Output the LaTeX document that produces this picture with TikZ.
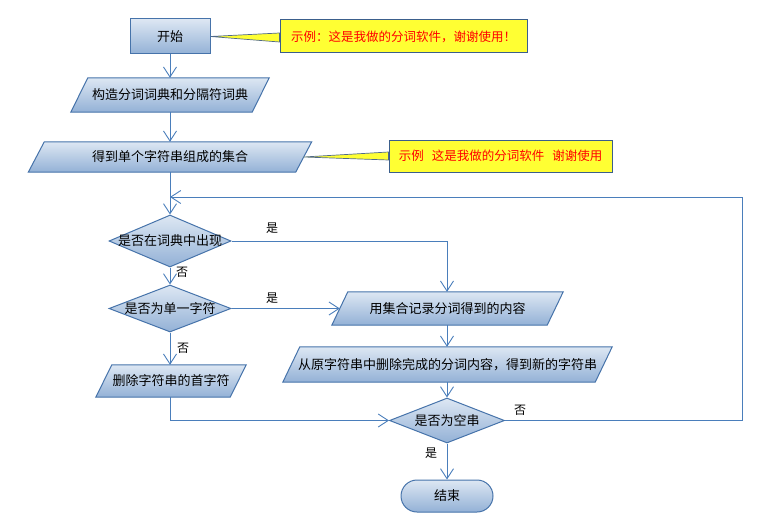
\documentclass[tikz,border=0pt]{standalone}
\usepackage{fontspec}
\setmainfont{Noto Sans CJK SC}
\usetikzlibrary{shapes.geometric,arrows.meta,backgrounds}
\definecolor{lineblue}{HTML}{4A7EBB}
\definecolor{edgeblue}{HTML}{4673AA}
\definecolor{shtop}{HTML}{DDE7F3}
\definecolor{shbot}{HTML}{93B1D6}
\definecolor{calloutfill}{HTML}{FFFF33}
\definecolor{calloutedge}{HTML}{3B5F8C}
\newcommand\parashape[2]{\path[pshape] ([xshift=#2/2]#1.north west) -- ([xshift=#2/2]#1.north east) -- ([xshift=-#2/2]#1.south east) -- ([xshift=-#2/2]#1.south west) -- cycle;}
\begin{document}
\begin{tikzpicture}[x=1pt,y=-1pt,
 box/.style={draw=edgeblue, line width=1pt, top color=shtop, bottom color=shbot, inner sep=0pt},
 pshape/.style={draw=edgeblue, line width=1pt, top color=shtop, bottom color=shbot},
 para/.style={rectangle, inner sep=0pt, txt},
 dec/.style={box, diamond},
 txt/.style={font=\fontsize{13pt}{15pt}\selectfont, text=black},
 flow/.style={draw=lineblue, line width=0.9pt, -{Straight Barb[length=10pt,width=13pt]}},
 yn/.style={font=\fontsize{12pt}{14pt}\selectfont, inner sep=0pt},
 note/.style={draw=calloutedge, line width=1pt, fill=calloutfill, text=red, font=\fontsize{12.5pt}{14pt}\selectfont, inner sep=0pt},
 wedge/.style={fill=calloutfill, draw=calloutedge!70!gray, line width=0.7pt}]
\useasboundingbox (0,0) rectangle (783,516);

\node[box, txt, minimum width=80pt, minimum height=35pt] (start) at (170,36.5) {开始};
\node[para, minimum width=181pt, minimum height=34pt] (p1) at (170,95) {构造分词词典和分隔符词典};
\node[para, minimum width=267pt, minimum height=30pt] (p2) at (170,157) {得到单个字符串组成的集合};
\node[dec, minimum width=122pt, minimum height=52pt, label={[txt]center:是否在词典中出现}] (d1) at (170,241) {};
\node[dec, minimum width=122pt, minimum height=47pt, label={[txt]center:是否为单一字符}] (d2) at (170,308.5) {};
\node[para, minimum width=134pt, minimum height=32pt] (p4) at (171,381) {删除字符串的首字符};
\node[para, minimum width=215pt, minimum height=33pt] (p3) at (447.5,308.5) {用集合记录分词得到的内容};
\node[para, minimum width=312pt, minimum height=35pt] (p5) at (447.5,364.5) {从原字符串中删除完成的分词内容，得到新的字符串};
\node[dec, minimum width=115pt, minimum height=45pt, label={[txt]center:是否为空串}] (d3) at (447,420.5) {};
\node[box, txt, rounded corners=16pt, minimum width=92pt, minimum height=32pt] (end) at (447,496) {结束};

\node[note, minimum width=247pt, minimum height=33pt] (n1) at (403.5,36.5) {示例：这是我做的分词软件，谢谢使用！};
\node[note, minimum width=223pt, minimum height=32pt] (n2) at (500.5,156) {示例\hspace{8pt}这是我做的分词软件\hspace{8pt}谢谢使用};

\begin{scope}[on background layer]
\parashape{p1}{17}
\parashape{p2}{16}
\parashape{p4}{16}
\parashape{p3}{16}
\parashape{p5}{17}
\path[wedge] (start.east) -- ([yshift=3.5pt]n1.west) -- ([yshift=-5.5pt]n1.west) -- cycle;
\path[wedge] (p2.east) -- ([yshift=4pt]n2.west) -- ([yshift=-4pt]n2.west) -- cycle;
\end{scope}

\draw[flow] (start.south) -- (p1.north);
\draw[flow] (p1.south) -- (p2.north);
\draw[flow] (p2.south) -- (d1.north);
\draw[flow] (d1.east) -| (d3.north |- p3.north);
\draw[flow] (d1.south) -- (d2.north);
\draw[flow] (d2.east) -- (p3.west);
\draw[flow] (d2.south) -- (d2.south |- p4.north);
\draw[flow] (d3.north |- p3.south) -- (d3.north |- p5.north);
\draw[flow] (d3.north |- p5.south) -- (d3.north);
\draw[flow] (d2.south |- p4.south) |- (d3.west);
\coordinate (cr) at (742,197);
\draw[flow] (d3.east) -| (cr) -- (cr -| p2.south);
\draw[flow] (d3.south) -- (end.north);

\node[yn] (y1) at (272,228) {是};
\node[yn] (n1l) at (182,272) {否};
\node[yn] (y2) at (272,298) {是};
\node[yn] (n2l) at (183,348) {否};
\node[yn] (n3l) at (520,410) {否};
\node[yn] (y3) at (431,453) {是};
\end{tikzpicture}
\end{document}
